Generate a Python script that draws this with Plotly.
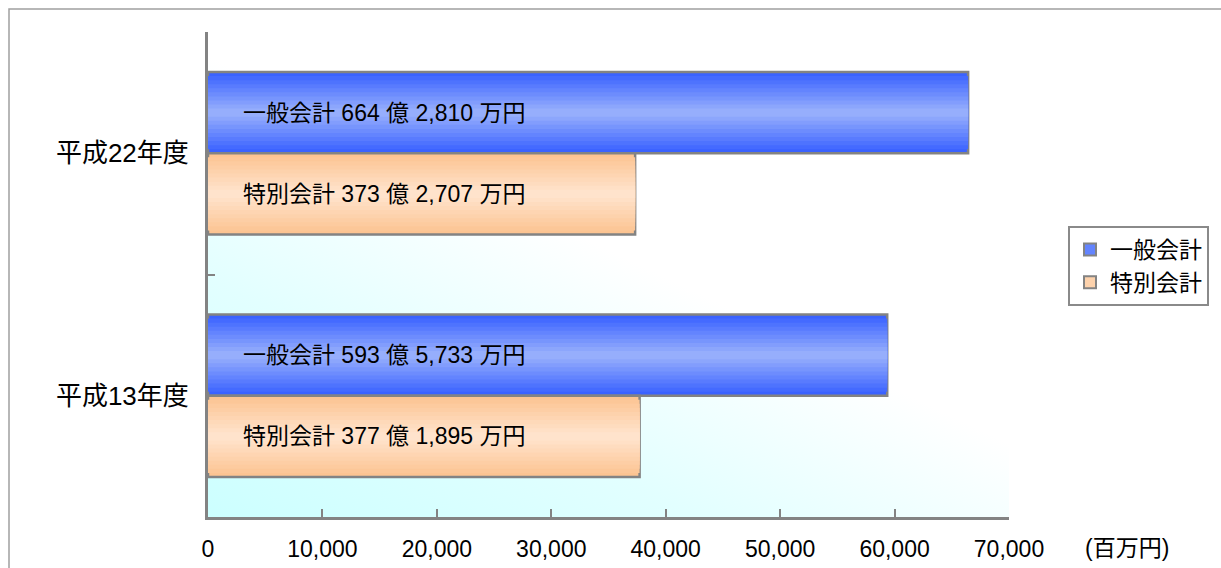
import base64
import plotly.graph_objects as go

# ---- data (百万円) ----
years = ["平成13年度", "平成22年度"]
series_names = ["一般会計", "特別会計"]
general = [59357.33, 66428.10]
special = [37718.95, 37327.07]
x_ticks = [0, 10000, 20000, 30000, 40000, 50000, 60000, 70000]
unit_label = "(百万円)"

FONT = "Liberation Sans, Arial, Noto Sans CJK JP, sans-serif"
CJK = "Liberation Sans, Noto Sans CJK JP, sans-serif"
W = 0.335
N = 10
GRAY = "#838383"


def fmt(name, v):
    man = int(round(v * 100))
    oku, rest = divmod(man, 10000)
    return f"     {name} {oku} 億 {rest:,} 万円"


def lerp(c1, c2, t):
    return "rgb(%d,%d,%d)" % tuple(round(a + (b - a) * t) for a, b in zip(c1, c2))


styles = [
    (general, series_names[0], (58, 98, 255), (150, 174, 252), 0.0),
    (special, series_names[1], (252, 196, 146), (255, 227, 204), -W),
]

fig = go.Figure()
for vals, name, edge, center, off in styles:
    for i in range(N):
        t = i / (N - 1)
        w = W * (1 - i / N)
        fig.add_trace(go.Bar(
            x=vals, y=years, orientation="h",
            width=w, offset=off + (W - w) / 2,
            marker=dict(color=lerp(edge, center, t),
                        line=dict(color=GRAY, width=2.5 if i == 0 else 0)),
            showlegend=False, hoverinfo="skip", name=name,
        ))
    fig.add_trace(go.Bar(
        x=vals, y=years, orientation="h", width=W, offset=off,
        marker=dict(color="rgba(0,0,0,0)", line=dict(width=0)),
        text=[fmt(name, v) for v in vals], textposition="inside",
        insidetextanchor="start", textangle=0,
        textfont=dict(family=CJK, size=23, color="black"),
        showlegend=False, name=name,
    ))
    fig.add_trace(go.Bar(
        x=[None], y=[None], orientation="h", name=name,
        marker=dict(color=lerp(edge, center, 0.45), line=dict(color=GRAY, width=2)),
        showlegend=True,
    ))

svg = ('<svg xmlns="http://www.w3.org/2000/svg" width="100" height="100" preserveAspectRatio="none">'
       '<defs><linearGradient id="g" x1="0" y1="1" x2="0.8" y2="0">'
       '<stop offset="0" stop-color="#ccffff"/><stop offset="0.3" stop-color="#e2ffff"/>'
       '<stop offset="0.58" stop-color="#ffffff"/></linearGradient></defs>'
       '<rect width="100" height="100" fill="url(#g)"/></svg>')
src = "data:image/svg+xml;base64," + base64.b64encode(svg.encode()).decode()

L, T = 208, 32
PW, PH = 801, 485
FW, FH = 1221, 568
R, B = FW - L - PW, FH - T - PH


def px(sx):
    return (sx - L) / PW


def py(sy):
    return (T + PH - sy) / PH


fig.update_layout(
    width=FW, height=FH,
    margin=dict(l=L, r=R, t=T, b=B, autoexpand=False),
    barmode="overlay",
    paper_bgcolor="white", plot_bgcolor="rgba(0,0,0,0)",
    font=dict(family=FONT, color="black"),
    images=[dict(source=src, xref="paper", yref="paper", x=0, y=1, sizex=1, sizey=1,
                 xanchor="left", yanchor="top", sizing="stretch", layer="below")],
    legend=dict(x=px(1068), y=py(226), xanchor="left", yanchor="top",
                traceorder="normal", bordercolor="#8a8a8a", borderwidth=2,
                font=dict(family=CJK, size=23), bgcolor="white",
                itemwidth=30, tracegroupgap=0),
    xaxis=dict(range=[0, 70000], tickvals=x_ticks, ticktext=[f"{v:,}" for v in x_ticks],
               ticks="inside", ticklen=8, tickcolor=GRAY, tickwidth=2,
               showline=True, linecolor=GRAY, linewidth=3, showgrid=False,
               zeroline=False, ticklabelstandoff=9, automargin=False,
               tickfont=dict(family=FONT, size=23)),
    yaxis=dict(type="category", categoryorder="array", categoryarray=years,
               tickson="boundaries", ticks="inside", ticklen=7, tickcolor=GRAY,
               tickwidth=2, showline=True, linecolor=GRAY, linewidth=3,
               showgrid=False, ticklabelstandoff=11, automargin=False,
               tickfont=dict(family=CJK, size=26)),
    shapes=[dict(type="rect", xref="paper", yref="paper",
                 x0=px(9), x1=px(1240), y0=py(600), y1=py(9),
                 line=dict(color="#a0a0a0", width=1.5), fillcolor="rgba(0,0,0,0)", layer="below")],
    annotations=[dict(text=unit_label, xref="paper", yref="paper",
                      x=px(1127), y=py(548), xanchor="center", yanchor="middle",
                      showarrow=False, font=dict(family=CJK, size=23))],
)

fig.write_html(
    "out.html",
    config={"displayModeBar": False},
    post_script="document.body.style.margin='0';document.body.style.overflow='hidden';",
)
